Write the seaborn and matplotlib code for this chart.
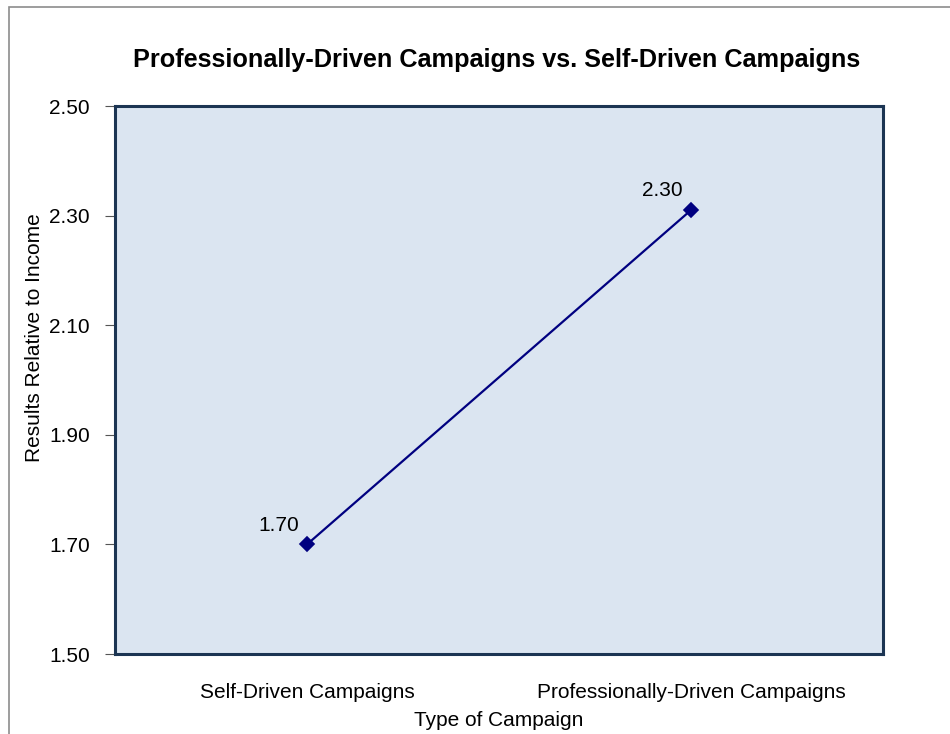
import pandas as pd
import seaborn as sns
import matplotlib.pyplot as plt
from matplotlib.patches import Rectangle

# Chart data
campaigns = ['Self-Driven Campaigns', 'Professionally-Driven Campaigns']
results = [1.70, 2.31]
point_labels = ['1.70', '2.30']

df = pd.DataFrame({'campaign': campaigns, 'result': results})

sns.set_style('white')
plt.rcParams['font.family'] = ['Liberation Sans', 'DejaVu Sans']
plt.rcParams['text.color'] = 'black'
plt.rcParams['axes.labelcolor'] = 'black'
plt.rcParams['xtick.color'] = 'black'
plt.rcParams['ytick.color'] = 'black'

fig = plt.figure(figsize=(9.5, 7.34), dpi=100)
ax = fig.add_axes([115 / 950, 1 - 654 / 734, 768 / 950, 548 / 734])

# outer chart border (left and top visible)
fig.patches.append(Rectangle((9 / 950, -0.1), 1.2, (734 - 7) / 734 + 0.1,
                             transform=fig.transFigure, fill=False,
                             edgecolor='#8c8c8c', linewidth=1.2))

sns.pointplot(data=df, x='campaign', y='result', color='#000080', markers='D',
              markersize=7, linewidth=1.6, ax=ax)

for i, (v, lab) in enumerate(zip(results, point_labels)):
    ax.annotate(lab, (i, v), xytext=(-6, 7), textcoords='offset points',
                ha='right', va='bottom', fontsize=15, color='black')

ax.set_facecolor('#dbe5f1')
for s in ax.spines.values():
    s.set_color('#1c3553')
    s.set_linewidth(2.2)

ax.set_ylim(1.5, 2.5)
ax.set_yticks([1.5, 1.7, 1.9, 2.1, 2.3, 2.5])
ax.set_yticklabels([f'{t:.2f}' for t in [1.5, 1.7, 1.9, 2.1, 2.3, 2.5]])
ax.set_xlim(-0.5, 1.5)
ax.set_xticks([0, 1])
ax.set_xticklabels(campaigns)
ax.set_xticks([-0.5, 0.5, 1.5], minor=True)
ax.tick_params(axis='x', which='major', length=0, pad=21, labelsize=15)
ax.tick_params(axis='x', which='minor', length=7, width=0.8, color='#555555', direction='out')
ax.tick_params(axis='y', length=7, width=0.8, color='#555555', direction='out',
               labelsize=15, pad=11, left=True)

ax.set_xlabel('Type of Campaign', fontsize=15, labelpad=6)
ax.set_ylabel('')
fig.text(35 / 950, 1 - 338 / 734, 'Results Relative to Income', rotation=90,
         ha='center', va='center', fontsize=15)
fig.text(497 / 950, 1 - 60 / 734, 'Professionally-Driven Campaigns vs. Self-Driven Campaigns',
         ha='center', va='center', fontsize=18.2, fontweight='bold')

fig.savefig('out.png', dpi=100)
